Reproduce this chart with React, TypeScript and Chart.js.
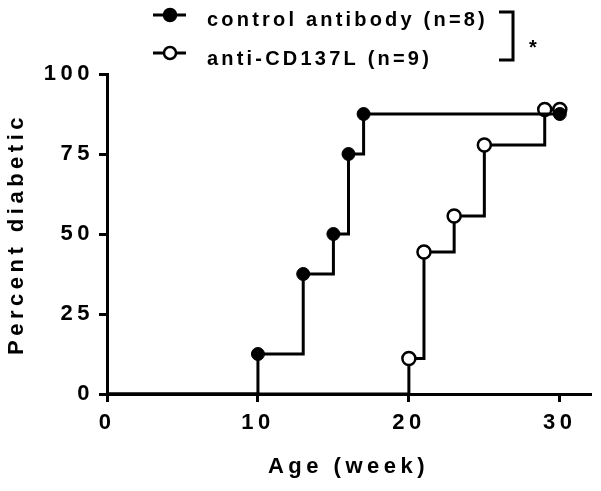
import React, { useEffect, useRef } from 'react';
import { Chart, registerables } from 'chart.js';

Chart.register(...registerables);

// ---- data ----
const weeksControl = [0, 10, 13, 15, 16, 17, 30];
const pctControl = [0, 12.5, 37.5, 50, 75, 87.5, 87.5];
const weeksAnti = [0, 20, 21, 23, 25, 29, 30];
const pctAnti = [0, 11.1, 44.4, 55.6, 77.8, 88.9, 88.9];
const xTicks = [0, 10, 20, 30];
const yTicks = [0, 25, 50, 75, 100];
const legendLabels = ['control antibody (n=8)', 'anti-CD137L (n=9)'];
const significance = '*';
const xTitle = 'Age (week)';
const yTitle = 'Percent diabetic';

const FONT = "'Liberation Sans', Arial, Helvetica, sans-serif";
const AXIS_FONT = { family: FONT, size: 22, weight: 'bold' as const };

export default function App() {
  const ref = useRef<HTMLCanvasElement>(null);

  useEffect(() => {
    if (!ref.current) return;

    const spacingPlugin = {
      id: 'spacing',
      beforeLayout(c: any) { c.ctx.letterSpacing = '4.5px'; },
      beforeDraw(c: any) { c.ctx.letterSpacing = '4.5px'; },
    };

    const legendPlugin = {
      id: 'customLegend',
      afterDraw(c: any) {
        const ctx = c.ctx as CanvasRenderingContext2D;
        ctx.save();
        (ctx as any).letterSpacing = '3.2px';
        ctx.font = `bold 20px ${FONT}`;
        ctx.textAlign = 'left';
        ctx.textBaseline = 'alphabetic';
        const rows = [
          { y: 15, base: 26 },
          { y: 53, base: 65 },
        ];
        rows.forEach((r, i) => {
          const ds = c.data.datasets[i];
          ctx.strokeStyle = ds.borderColor;
          ctx.lineWidth = 3;
          ctx.beginPath();
          ctx.moveTo(153, r.y);
          ctx.lineTo(186, r.y);
          ctx.stroke();
          ctx.beginPath();
          ctx.arc(170, r.y, 6, 0, Math.PI * 2);
          ctx.fillStyle = ds.pointBackgroundColor;
          ctx.fill();
          ctx.lineWidth = 2.5;
          ctx.strokeStyle = ds.pointBorderColor;
          ctx.stroke();
          ctx.fillStyle = '#000';
          ctx.fillText(legendLabels[i], 207, r.base);
        });
        ctx.strokeStyle = '#000';
        ctx.lineWidth = 3;
        ctx.beginPath();
        ctx.moveTo(499, 12);
        ctx.lineTo(513, 12);
        ctx.lineTo(513, 60);
        ctx.lineTo(499, 60);
        ctx.stroke();
        ctx.fillStyle = '#000';
        ctx.fillText(significance, 529, 54);
        ctx.restore();
      },
    };

    const radius = (ctx: any) => (ctx.dataIndex === 0 ? 0 : 6.5);

    const chart = new Chart(ref.current, {
      type: 'line',
      data: {
        datasets: [
          {
            label: legendLabels[0],
            data: weeksControl.map((x, i) => ({ x, y: pctControl[i] })),
            stepped: 'before',
            borderColor: '#000',
            borderWidth: 3,
            pointRadius: radius,
            pointHoverRadius: radius,
            pointBackgroundColor: '#000',
            pointBorderColor: '#000',
            pointBorderWidth: 1,
            fill: false,
          },
          {
            label: legendLabels[1],
            data: weeksAnti.map((x, i) => ({ x, y: pctAnti[i] })),
            stepped: 'before',
            borderColor: '#000',
            borderWidth: 3,
            pointRadius: radius,
            pointHoverRadius: radius,
            pointBackgroundColor: '#fff',
            pointBorderColor: '#000',
            pointBorderWidth: 2.5,
            fill: false,
          },
        ],
      },
      options: {
        animation: false,
        responsive: true,
        maintainAspectRatio: false,
        layout: { padding: { top: 74, right: 11, left: 0, bottom: 0 } },
        plugins: { legend: { display: false }, tooltip: { enabled: false } },
        scales: {
          x: {
            type: 'linear',
            min: 0,
            max: 32,
            afterBuildTicks: (s: any) => { s.ticks = xTicks.map((v) => ({ value: v })); },
            afterFit: (s: any) => { s.height = 97; },
            grid: { display: true, drawOnChartArea: false, drawTicks: true, tickLength: 8, color: '#000', lineWidth: 3 },
            border: { display: true, color: '#000', width: 3 },
            ticks: { color: '#000', font: AXIS_FONT, padding: 8, maxRotation: 0, autoSkip: false },
            title: { display: true, text: xTitle, color: '#000', font: AXIS_FONT, padding: { top: 0, bottom: 11 } },
          },
          y: {
            type: 'linear',
            min: 0,
            max: 100,
            afterBuildTicks: (s: any) => { s.ticks = yTicks.map((v) => ({ value: v })); },
            afterFit: (s: any) => { s.width = 107; },
            grid: { display: true, drawOnChartArea: false, drawTicks: true, tickLength: 8, color: '#000', lineWidth: 3 },
            border: { display: true, color: '#000', width: 3 },
            ticks: { color: '#000', font: AXIS_FONT, padding: 5, autoSkip: false },
            title: { display: true, text: yTitle, color: '#000', font: AXIS_FONT, padding: { top: 4, bottom: 0 } },
          },
        },
      } as any,
      plugins: [spacingPlugin, legendPlugin],
    });

    return () => chart.destroy();
  }, []);

  return (
    <div style={{ position: 'absolute', left: 0, top: 0, width: 601, height: 491, background: '#fff' }}>
      <canvas ref={ref} />
    </div>
  );
}
